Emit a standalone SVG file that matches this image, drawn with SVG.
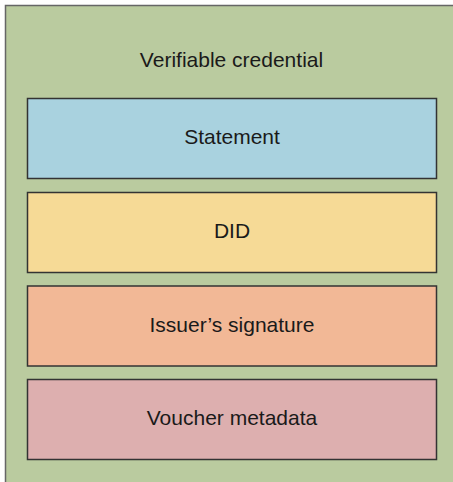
<svg xmlns="http://www.w3.org/2000/svg" width="453" height="482" viewBox="0 0 453 482">
<style>
.box{stroke:#333;stroke-width:1.5}
text{font-family:"Liberation Sans",Arial,sans-serif;font-size:21px;fill:#1a1a1a;text-anchor:middle}
</style>
<rect width="453" height="482" fill="#ffffff"/>
<g id="credential">
<rect x="5.5" y="5.5" width="460" height="490" fill="#bacb9f" stroke="#666" stroke-width="1.5"/>
<text x="231.5" y="66.5">Verifiable credential</text>
</g>
<g id="statement">
<rect class="box" x="27.5" y="98.5" width="409" height="80" fill="#a9d2df"/>
<text x="232" y="144.3">Statement</text>
</g>
<g id="did">
<rect class="box" x="27.5" y="192.5" width="409" height="80" fill="#f6da96"/>
<text x="232" y="238">DID</text>
</g>
<g id="issuer">
<rect class="box" x="27.5" y="286" width="409" height="80" fill="#f2b896"/>
<text x="232" y="331.5">Issuer’s signature</text>
</g>
<g id="voucher">
<rect class="box" x="27.5" y="379.5" width="409" height="80" fill="#ddafaf"/>
<text x="232" y="425">Voucher metadata</text>
</g>
<g id="connectors"/>
</svg>
